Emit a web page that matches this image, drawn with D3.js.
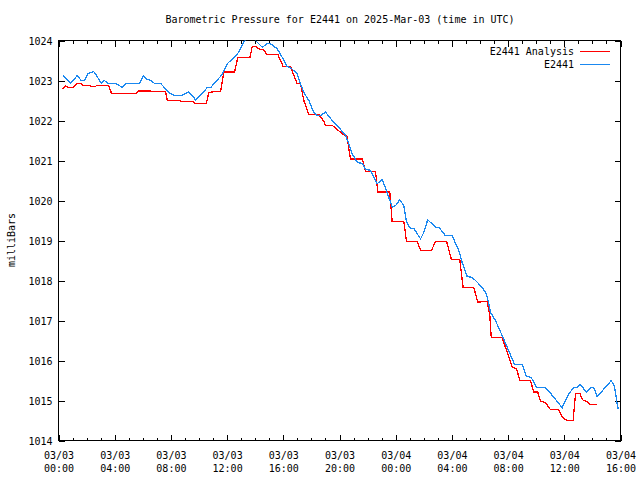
<!DOCTYPE html>
<html>
<head>
<meta charset="utf-8">
<script src="https://cdn.jsdelivr.net/npm/d3@7"></script>
<style>
  html, body { margin: 0; padding: 0; background: #fff; }
  svg { display: block; }
  text { font-family: "DejaVu Sans Mono", "Liberation Mono", monospace; font-size: 10px; fill: #000; }
</style>
</head>
<body>
<svg id="chart" width="640" height="480"></svg>
<script>
// ---- data (hours since 2025-03-03 00:00 UTC, pressure in millibars) ----
const titleText = "Barometric Pressure for E2441 on 2025-Mar-03 (time in UTC)";
const yLabel = "milliBars";
const seriesNames = ["E2441 Analysis", "E2441"];
const yTicks = [1014, 1015, 1016, 1017, 1018, 1019, 1020, 1021, 1022, 1023, 1024];
const xTickHours = [0, 4, 8, 12, 16, 20, 24, 28, 32, 36, 40];

const stationHours = [0.31,0.85,1.33,1.62,1.85,2.09,2.51,2.75,3.04,3.27,3.51,4.06,4.53,4.84,5.79,6.03,6.31,6.55,6.83,7.26,7.62,7.97,8.33,8.73,9.27,9.40,9.75,10.23,10.58,10.82,11.17,11.65,12.01,12.72,13.19,13.5,13.8,14.02,14.50,14.85,15.09,15.57,15.92,16.28,16.51,16.99,17.22,17.46,17.82,18.17,18.41,18.65,19.0,19.48,19.95,20.43,20.66,20.90,21.26,21.62,21.85,22.21,22.68,23.04,23.39,23.75,23.99,24.29,24.58,24.77,25.05,25.29,25.77,26.0,26.28,26.83,27.07,27.54,28.02,28.49,28.73,29.09,29.44,29.80,30.16,30.39,30.51,30.75,31.10,31.58,31.94,32.46,33.0,33.31,33.64,34.02,34.66,35.02,35.85,36.32,36.68,36.87,37.15,37.58,37.86,38.10,38.34,38.93,39.34,39.57,39.76,39.83];
const stationPressure = [1023.12,1022.93,1023.12,1023.0,1023.0,1023.17,1023.22,1023.1,1022.93,1023.0,1022.93,1022.93,1022.83,1022.93,1022.93,1023.12,1023.03,1023.0,1022.93,1022.93,1022.79,1022.67,1022.62,1022.62,1022.72,1022.67,1022.52,1022.67,1022.82,1022.82,1022.96,1023.15,1023.42,1023.65,1023.96,1024.1,1024.1,1024.0,1023.83,1023.92,1023.92,1023.79,1023.58,1023.35,1023.32,1023.17,1022.92,1022.7,1022.5,1022.2,1022.12,1022.12,1022.21,1022.0,1021.83,1021.63,1021.42,1021.17,1020.96,1020.92,1020.79,1020.75,1020.42,1020.52,1020.2,1019.83,1019.87,1020.02,1019.87,1019.46,1019.3,1019.3,1019.04,1019.2,1019.52,1019.33,1019.33,1019.12,1019.12,1018.75,1018.45,1018.1,1018.08,1017.96,1017.82,1017.71,1017.6,1017.2,1017.0,1016.62,1016.33,1015.9,1015.9,1015.6,1015.58,1015.32,1015.32,1015.18,1014.82,1015.17,1015.32,1015.32,1015.4,1015.2,1015.32,1015.32,1015.1,1015.33,1015.5,1015.35,1014.92,1014.79];

const analysisHours = [0.31,0.50,0.73,1.05,1.28,1.62,1.76,2.23,2.28,2.63,2.70,3.58,3.77,5.55,5.72,6.55,6.67,7.62,7.74,8.68,8.73,9.63,9.68,10.53,10.70,11.05,11.53,11.77,12.53,12.76,13.62,13.79,14.02,14.26,14.61,14.80,15.61,15.99,16.51,16.70,16.99,17.22,17.46,17.82,18.53,18.88,19.0,19.48,20.20,20.55,20.66,20.78,21.62,21.85,22.56,22.73,23.58,23.75,24.58,24.77,25.53,25.77,26.55,26.83,27.62,27.97,28.56,28.80,29.56,29.84,30.51,30.70,30.80,31.58,31.89,32.29,32.60,32.83,33.59,33.83,34.11,34.31,34.66,35.02,35.61,35.85,36.21,36.63,36.80,37.11,37.28,37.67,37.86,38.34];
const analysisPressure = [1022.79,1022.87,1022.82,1022.82,1022.92,1022.92,1022.87,1022.87,1022.85,1022.85,1022.87,1022.87,1022.68,1022.68,1022.74,1022.74,1022.72,1022.72,1022.5,1022.5,1022.47,1022.47,1022.43,1022.43,1022.7,1022.72,1022.72,1023.21,1023.21,1023.57,1023.57,1023.85,1023.85,1023.79,1023.77,1023.65,1023.65,1023.35,1023.35,1023.17,1022.92,1022.92,1022.5,1022.15,1022.15,1021.98,1021.88,1021.88,1021.67,1021.6,1021.29,1021.04,1021.04,1020.73,1020.73,1020.21,1020.21,1019.47,1019.47,1018.98,1018.98,1018.75,1018.75,1018.98,1018.98,1018.52,1018.52,1017.82,1017.82,1017.46,1017.48,1017.12,1016.57,1016.57,1016.25,1015.83,1015.8,1015.5,1015.5,1015.21,1015.21,1014.98,1014.95,1014.77,1014.77,1014.58,1014.5,1014.5,1015.18,1015.18,1015.02,1014.96,1014.9,1014.9];

// ---- layout ----
const start = Date.UTC(2025, 2, 3, 0, 0);
const toDate = h => new Date(start + h * 3600000);
const svg = d3.select("#chart");
const L = 58.5, R = 620.5, T = 40.5, B = 440.5;
const colors = ["#ff0000", "#1a88f0"];

const x = d3.scaleUtc().domain([toDate(0), toDate(40)]).range([L, R]);
const y = d3.scaleLinear().domain([1014, 1024]).range([B, T]);

// title
svg.append("text").attr("x", 340).attr("y", 23).attr("text-anchor", "middle").text(titleText);
// y label
svg.append("text").attr("transform", "translate(15,240) rotate(-90)").attr("text-anchor", "middle").text(yLabel);

// clip
svg.append("clipPath").attr("id", "clip").append("rect")
  .attr("x", L).attr("y", T).attr("width", R - L).attr("height", B - T);

// axes (inward ticks)
const hourTicks = d3.range(0, 41).map(toDate);
const majorTicks = xTickHours.map(toDate);
const fmtD = d3.utcFormat("%m/%d"), fmtT = d3.utcFormat("%H:%M");

function tickStyle(g) {
  g.select(".domain").remove();
  g.selectAll("line").attr("stroke", "#000").attr("shape-rendering", "crispEdges");
}

svg.append("g").attr("transform", `translate(0,${B})`)
  .call(d3.axisBottom(x).tickValues(hourTicks).tickSize(-3).tickFormat(""))
  .call(tickStyle).selectAll("text").remove();
svg.append("g").attr("transform", `translate(0,${T})`)
  .call(d3.axisTop(x).tickValues(hourTicks).tickSize(-3).tickFormat(""))
  .call(tickStyle).selectAll("text").remove();

const xb = svg.append("g").attr("transform", `translate(0,${B})`)
  .call(d3.axisBottom(x).tickValues(majorTicks).tickSize(-6).tickPadding(0).tickFormat(""))
  .call(tickStyle);
xb.selectAll(".tick text").remove();
xb.selectAll(".tick").append("text")
  .attr("text-anchor", "middle")
  .attr("font-family", null).attr("font-size", null)
  .each(function(d) {
    const t = d3.select(this);
    t.append("tspan").attr("x", 0).attr("y", 18).text(fmtD(d));
    t.append("tspan").attr("x", 0).attr("y", 31).text(fmtT(d));
  });
svg.append("g").attr("transform", `translate(0,${T})`)
  .call(d3.axisTop(x).tickValues(majorTicks).tickSize(-6).tickFormat(""))
  .call(tickStyle).selectAll("text").remove();

const yl = svg.append("g").attr("transform", `translate(${L},0)`)
  .call(d3.axisLeft(y).tickValues(yTicks).tickSize(-6).tickPadding(6).tickFormat(d3.format("d")))
  .call(tickStyle);
yl.selectAll("text").attr("font-family", null).attr("font-size", null).attr("fill", null).attr("x", -6).attr("dy", "0.35em");
svg.append("g").attr("transform", `translate(${R},0)`)
  .call(d3.axisRight(y).tickValues(yTicks).tickSize(-6).tickFormat(""))
  .call(tickStyle).selectAll("text").remove();

// frame
svg.append("rect").attr("x", L).attr("y", T).attr("width", R - L).attr("height", B - T)
  .attr("fill", "none").attr("stroke", "#000").attr("shape-rendering", "crispEdges");

// lines
const line = d3.line().x(d => x(toDate(d[0]))).y(d => y(d[1]));
const plotG = svg.append("g").attr("clip-path", "url(#clip)");
const analysis = analysisHours.map((h, i) => [h, analysisPressure[i]]);
const station = stationHours.map((h, i) => [h, stationPressure[i]]);
plotG.append("path").datum(analysis).attr("d", line)
  .attr("fill", "none").attr("stroke", colors[0]).attr("stroke-width", 1.3)
  .attr("shape-rendering", "crispEdges");
plotG.append("path").datum(station).attr("d", line)
  .attr("fill", "none").attr("stroke", colors[1]).attr("stroke-width", 1.3)
  .attr("shape-rendering", "crispEdges");

// legend
const lg = svg.append("g");
seriesNames.forEach((name, i) => {
  const yy = 51 + i * 13;
  lg.append("text").attr("x", 574).attr("y", yy).attr("dy", "0.35em").attr("text-anchor", "end").text(name);
  lg.append("line").attr("x1", 580).attr("x2", 610).attr("y1", yy + 0.5).attr("y2", yy + 0.5)
    .attr("stroke", colors[i]).attr("stroke-width", 1)
    .attr("shape-rendering", "crispEdges");
});
</script>
</body>
</html>
